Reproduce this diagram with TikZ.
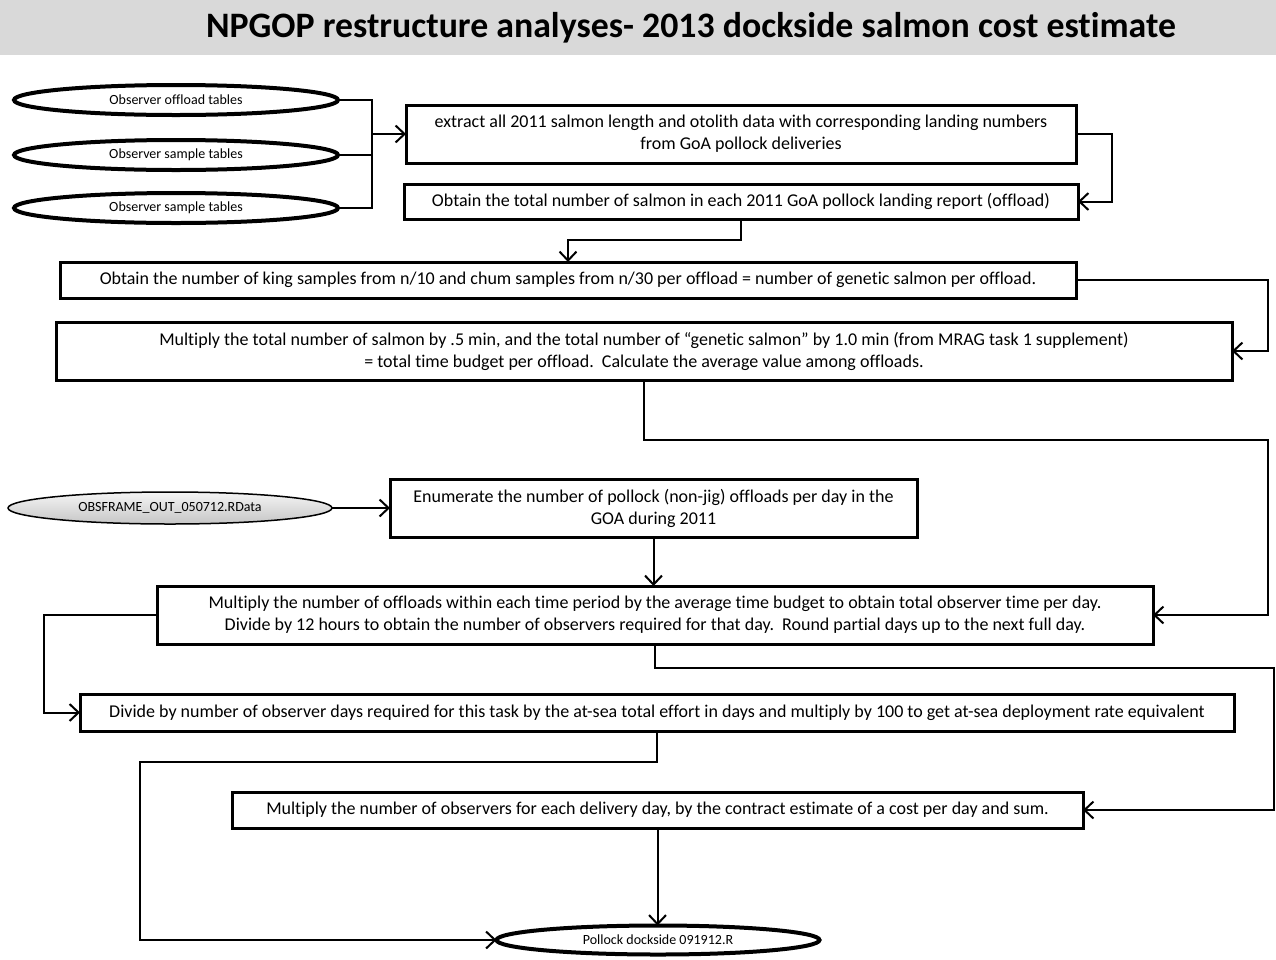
\documentclass[tikz,border=0pt]{standalone}
\usepackage{fontspec}
\setmainfont{Carlito}[Ligatures=NoCommon]
\usetikzlibrary{arrows.meta,shapes.geometric}
\tikzset{
  procbox/.style={draw=black,line width=3pt,rectangle,inner sep=0pt,outer sep=0pt,align=center,font=\fontsize{18}{22}\selectfont,fill=white},
  datael/.style={draw=black,line width=4pt,ellipse,inner sep=0pt,outer sep=0pt,font=\fontsize{14}{16}\selectfont},
  conn/.style={draw=black,line width=2pt},
  arr/.style={conn,-{Straight Barb[length=9pt,width=17pt,line width=2pt]}}
}
\begin{document}
\begin{tikzpicture}[x=1pt,y=-1pt]
\useasboundingbox (0,0) rectangle (1276,959);
\fill[fill={rgb,255:red,217;green,217;blue,217}] (0,0) rectangle (1276,55);
\node[font=\bfseries\fontsize{35.8}{40}\selectfont] (title) at (691,28) {NPGOP restructure analyses- 2013 dockside salmon cost estimate};

\node[datael,minimum width=324pt,minimum height=30pt] (e1) at (176,100) {Observer offload tables};
\node[datael,minimum width=324pt,minimum height=30pt] (e2) at (176,155) {Observer sample tables};
\node[datael,minimum width=324pt,minimum height=30pt] (e3) at (176,208) {Observer sample tables};

\node[procbox,minimum width=670pt,minimum height=58pt] (b1) at (741,134) {extract all 2011 salmon length and otolith data with corresponding landing numbers\\from GoA pollock deliveries};
\node[procbox,minimum width=674pt,minimum height=35pt] (b2) at (741,201.5) {Obtain the total number of salmon in each 2011 GoA pollock landing report (offload)};
\node[procbox,minimum width=1016pt,minimum height=36pt] (b3) at (568,280) {Obtain the number of king samples from n/10 and chum samples from n/30 per offload = number of genetic salmon per offload.};
\node[procbox,minimum width=1176pt,minimum height=58pt] (b4) at (644,351) {Multiply the total number of salmon by .5 min, and the total number of “genetic salmon” by 1.0 min (from MRAG task 1 supplement)\\= total time budget per offload.\ \ Calculate the average value among offloads.};

\node[datael,line width=1.5pt,top color=gray!8,bottom color=gray!45,minimum width=324pt,minimum height=32pt] (obs) at (170,508) {OBSFRAME\_OUT\_050712.RData};
\node[procbox,minimum width=527pt,minimum height=58pt] (b5) at (653.5,508) {Enumerate the number of pollock (non-jig) offloads per day in the\\GOA during 2011};
\node[procbox,minimum width=996pt,minimum height=58pt] (b6) at (655,615) {Multiply the number of offloads within each time period by the average time budget to obtain total observer time per day.\\Divide by 12 hours to obtain the number of observers required for that day.\ \ Round partial days up to the next full day.};
\node[procbox,minimum width=1154pt,minimum height=37pt] (b7) at (657,712.5) {Divide by number of observer days required for this task by the at-sea total effort in days and multiply by 100 to get at-sea deployment rate equivalent};
\node[procbox,minimum width=851pt,minimum height=36pt] (b8) at (657.5,810) {Multiply the number of observers for each delivery day, by the contract estimate of a cost per day and sum.};
\node[datael,minimum width=323pt,minimum height=29pt] (end) at (658,940) {Pollock dockside 091912.R};

\coordinate (j1) at (372,134);
\draw[conn] (e1.east) -| (j1);
\draw[conn] (e3.east) -| (j1);
\draw[conn] (e2.east) -- (e2.east -| j1);
\draw[arr] (j1) -- (b1.west);
\draw[arr] (b1.east) -- ++(36,0) |- (b2.east);
\draw[arr] (b2.south) -- ++(0,21) -| (b3.north);
\draw[arr] (b3.east) -- ++(192,0) |- (b4.east);
\draw[arr] (b4.south) -- ++(0,60) -- (1268,440) |- (b6.east);
\draw[arr] (obs.east) -- (b5.west);
\draw[arr] (b5.south) -- (b5.south |- b6.north);
\draw[arr] (b6.west) -- (44,615) |- (b7.west);
\draw[arr] (b6.south) -- ++(0,24) -- (1274,668) |- (b8.east);
\draw[arr] (b7.south) -- ++(0,31) -- (140,762) |- (end.west);
\draw[arr] (b8.south) -- (b8.south |- end.north);
\end{tikzpicture}
\end{document}
